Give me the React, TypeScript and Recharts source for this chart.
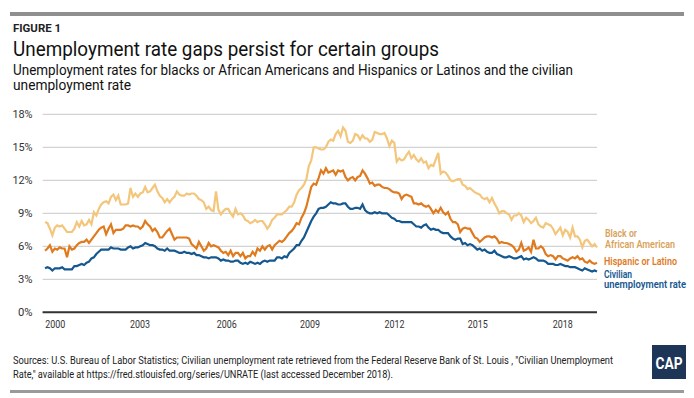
import React from "react";
import { LineChart, Line, XAxis, YAxis, CartesianGrid } from "recharts";

// Monthly unemployment rates, Jan 2000 – Nov 2018 (percent)
const civilian: number[] = [
  4.0, 4.1, 4.0, 3.8, 4.0, 4.0, 4.0, 4.1, 3.9, 3.9, 3.9, 3.9,
  4.2, 4.2, 4.3, 4.4, 4.3, 4.5, 4.6, 4.9, 5.0, 5.3, 5.5, 5.7,
  5.7, 5.7, 5.7, 5.9, 5.8, 5.8, 5.8, 5.7, 5.7, 5.7, 5.9, 6.0,
  5.8, 5.9, 5.9, 6.0, 6.1, 6.3, 6.2, 6.1, 6.1, 6.0, 5.8, 5.7,
  5.7, 5.6, 5.8, 5.6, 5.6, 5.6, 5.5, 5.4, 5.4, 5.5, 5.4, 5.4,
  5.3, 5.4, 5.2, 5.2, 5.1, 5.0, 5.0, 4.9, 5.0, 5.0, 5.0, 4.9,
  4.7, 4.8, 4.7, 4.7, 4.6, 4.6, 4.7, 4.7, 4.5, 4.4, 4.5, 4.4,
  4.6, 4.5, 4.4, 4.5, 4.4, 4.6, 4.7, 4.6, 4.7, 4.7, 4.7, 5.0,
  5.0, 4.9, 5.1, 5.0, 5.4, 5.6, 5.8, 6.1, 6.1, 6.5, 6.8, 7.3,
  7.8, 8.3, 8.7, 9.0, 9.4, 9.5, 9.5, 9.6, 9.8, 10.0, 9.9, 9.9,
  9.8, 9.8, 9.9, 9.9, 9.6, 9.4, 9.4, 9.5, 9.5, 9.4, 9.8, 9.3,
  9.1, 9.0, 9.0, 9.1, 9.0, 9.1, 9.0, 9.0, 9.0, 8.8, 8.6, 8.5,
  8.3, 8.3, 8.2, 8.2, 8.2, 8.2, 8.2, 8.0, 7.8, 7.8, 7.7, 7.9,
  8.0, 7.7, 7.5, 7.6, 7.5, 7.5, 7.3, 7.2, 7.2, 7.2, 6.9, 6.7,
  6.6, 6.7, 6.7, 6.2, 6.3, 6.1, 6.2, 6.1, 5.9, 5.7, 5.8, 5.6,
  5.7, 5.5, 5.4, 5.4, 5.6, 5.3, 5.2, 5.1, 5.0, 5.0, 5.1, 5.0,
  4.9, 4.9, 5.0, 5.1, 4.8, 4.9, 4.8, 4.9, 5.0, 4.9, 4.7, 4.7,
  4.7, 4.6, 4.4, 4.4, 4.4, 4.3, 4.3, 4.4, 4.3, 4.2, 4.2, 4.1,
  4.1, 4.1, 4.0, 3.9, 3.8, 4.0, 3.9, 3.8, 3.7, 3.8, 3.7,
];

const hispanic: number[] = [
  5.6, 5.8, 6.1, 5.5, 5.8, 5.7, 5.9, 5.8, 5.8, 5.0, 6.0, 5.7,
  5.8, 6.1, 6.3, 6.4, 6.4, 6.6, 6.3, 6.6, 6.9, 7.2, 7.5, 7.7,
  7.8, 7.1, 7.6, 8.0, 7.2, 7.5, 7.5, 7.5, 7.6, 7.9, 7.9, 7.8,
  7.9, 7.8, 7.8, 7.6, 7.8, 8.3, 8.0, 7.8, 7.4, 7.6, 7.3, 6.8,
  6.8, 7.1, 7.4, 7.6, 7.1, 6.6, 6.8, 6.8, 6.8, 6.8, 6.8, 6.7,
  6.2, 6.0, 5.8, 6.4, 6.0, 5.6, 5.8, 6.3, 6.0, 6.1, 6.0, 5.9,
  5.6, 5.4, 5.5, 5.2, 5.6, 5.1, 5.4, 5.4, 5.1, 5.4, 4.9, 5.1,
  5.1, 5.5, 5.2, 5.8, 5.6, 6.0, 5.7, 6.0, 6.1, 5.7, 6.1, 6.3,
  6.5, 6.4, 6.6, 6.9, 7.2, 7.4, 7.7, 8.1, 8.0, 8.6, 9.0, 9.6,
  10.5, 11.4, 11.7, 11.6, 12.2, 12.9, 12.6, 13.1, 12.7, 12.8, 12.9, 12.5,
  12.9, 12.8, 12.9, 12.3, 12.0, 12.2, 12.3, 12.0, 12.3, 12.4, 12.9, 12.6,
  12.2, 11.7, 11.8, 11.5, 11.6, 11.6, 11.4, 11.3, 11.3, 11.2, 11.0, 10.9,
  10.9, 10.8, 10.3, 10.6, 10.7, 10.6, 10.5, 9.9, 9.9, 9.8, 9.9, 9.7,
  9.6, 9.7, 9.4, 9.0, 9.3, 9.1, 9.5, 9.1, 8.9, 9.1, 8.5, 8.2,
  8.2, 8.0, 7.3, 7.6, 7.7, 7.6, 7.6, 7.2, 6.8, 6.7, 6.4, 6.6,
  6.8, 6.9, 6.9, 6.8, 6.9, 6.7, 6.3, 6.4, 6.3, 6.3, 6.2, 6.1,
  5.9, 5.5, 5.7, 6.3, 5.6, 5.7, 5.9, 5.5, 6.6, 5.8, 5.8, 6.0,
  5.8, 5.3, 5.1, 5.2, 5.1, 4.8, 5.1, 5.1, 4.9, 4.8, 4.7, 4.9,
  5.0, 4.9, 5.1, 4.8, 4.9, 4.6, 4.5, 4.7, 4.5, 4.4, 4.5,
];

const black: number[] = [
  8.2, 8.1, 7.6, 7.0, 7.7, 7.9, 7.8, 7.9, 7.6, 7.3, 7.3, 7.3,
  7.6, 8.2, 7.8, 8.3, 7.9, 8.0, 8.4, 8.0, 9.1, 8.8, 9.4, 9.8,
  10.0, 10.1, 9.9, 10.5, 10.7, 10.2, 10.6, 9.8, 9.8, 9.8, 9.9, 11.3,
  10.5, 10.8, 10.5, 10.8, 10.9, 11.4, 10.9, 11.0, 11.3, 11.6, 11.0, 10.6,
  10.4, 10.0, 10.3, 10.0, 10.3, 10.5, 11.0, 10.7, 10.6, 10.6, 10.8, 10.7,
  10.8, 10.8, 10.6, 10.3, 10.2, 10.0, 9.4, 9.6, 9.3, 9.2, 11.0, 9.3,
  8.9, 9.2, 9.4, 9.4, 9.0, 8.7, 9.4, 8.9, 9.0, 8.8, 8.4, 8.3,
  8.1, 8.2, 8.4, 8.2, 8.3, 8.3, 8.0, 7.6, 7.9, 8.4, 8.6, 8.9,
  8.9, 8.9, 9.1, 9.3, 9.6, 9.6, 10.0, 10.7, 11.1, 11.3, 11.6, 12.1,
  13.3, 13.8, 15.0, 15.0, 14.9, 14.8, 14.8, 15.0, 15.5, 15.7, 15.6, 16.2,
  16.5, 16.0, 16.8, 16.5, 15.5, 15.4, 15.6, 16.2, 16.1, 15.7, 16.1, 15.8,
  15.8, 15.5, 15.7, 16.4, 16.3, 16.2, 16.2, 16.3, 15.8, 15.1, 15.6, 15.4,
  13.7, 14.0, 13.8, 13.9, 14.3, 14.6, 14.0, 14.3, 13.9, 13.7, 14.0, 13.6,
  13.7, 13.1, 13.4, 13.3, 13.9, 14.5, 12.6, 12.8, 12.7, 12.4, 12.0, 11.9,
  12.0, 12.1, 12.1, 11.6, 11.5, 11.2, 11.3, 11.1, 10.9, 10.8, 10.7, 10.4,
  10.3, 10.4, 10.0, 10.4, 9.9, 9.5, 9.0, 9.2, 9.2, 9.0, 8.9, 8.4,
  8.8, 8.8, 9.0, 8.8, 8.2, 8.6, 8.4, 8.1, 8.3, 8.6, 8.0, 7.8,
  7.7, 8.1, 8.0, 7.9, 7.6, 7.1, 7.4, 7.7, 7.0, 7.5, 7.3, 6.8,
  7.7, 6.9, 6.9, 6.6, 5.9, 6.5, 6.6, 6.3, 6.0, 6.2, 5.9,
];

// Year labels and the month index (from Jan 2000) where each label sits
const yearLabels: string[] = ["2000", "2003", "2006", "2009", "2012", "2015", "2018"];
const yearTickMonths: number[] = [4.2, 38.9, 74.4, 108.5, 143.1, 177.2, 212.0];
const yTicks: number[] = [0, 3, 6, 9, 12, 15, 18];

const data = civilian.map((c, i) => ({
  m: i,
  civilian: c,
  hispanic: hispanic[i],
  black: black[i],
}));

const FONT = "Roboto, 'Liberation Sans', sans-serif";
const TAN = "#F3C67C";
const TAN_TEXT = "#D9A35C";
const ORANGE = "#E07A1F";
const BLUE = "#15578F";

const XTick = (props: any) => {
  const { x, y, payload } = props;
  const i = yearTickMonths.indexOf(payload.value);
  const label = i >= 0 ? yearLabels[i] : "";
  return (
    <text x={x} y={y + 9.5} textAnchor="middle" fontSize={11.5} fill="#333" fontFamily={FONT}
      textLength={20} lengthAdjust="spacingAndGlyphs">
      {label}
    </text>
  );
};

const YTick = (props: any) => {
  const { x, y, payload } = props;
  const label = `${payload.value}%`;
  const w = String(payload.value).length * 5.6 + 9;
  return (
    <text x={x} y={y + 4} textAnchor="end" fontSize={11.5} fill="#333" fontFamily={FONT}
      textLength={w} lengthAdjust="spacingAndGlyphs">
      {label}
    </text>
  );
};

export default function App() {
  return (
    <div style={{ position: "absolute", left: 0, top: 0, width: 694, height: 398, background: "#fff", fontFamily: FONT }}>
      <LineChart
        width={694}
        height={398}
        data={data}
        margin={{ top: 114.3, right: 97, bottom: 55.7, left: 0 }}
      >
        <CartesianGrid vertical={false} stroke="#c9c9c9" strokeWidth={1} />
        <XAxis
          type="number"
          dataKey="m"
          domain={[-1, 226]}
          ticks={yearTickMonths}
          interval={0}
          height={30}
          tickLine={false}
          tickMargin={0}
          axisLine={{ stroke: "#333", strokeWidth: 2 }}
          tick={<XTick />}
        />
        <YAxis
          type="number"
          domain={[0, 18]}
          ticks={yTicks}
          width={42.6}
          interval={0}
          axisLine={false}
          tickLine={false}
          tickMargin={4}
          tick={<YTick />}
        />
        <Line type="linear" dataKey="black" stroke={TAN} strokeWidth={2.2} dot={false} isAnimationActive={false} />
        <Line type="linear" dataKey="hispanic" stroke={ORANGE} strokeWidth={2.2} dot={false} isAnimationActive={false} />
        <Line type="linear" dataKey="civilian" stroke={BLUE} strokeWidth={2.2} dot={false} isAnimationActive={false} />
      </LineChart>

      <svg width={694} height={398} style={{ position: "absolute", left: 0, top: 0, pointerEvents: "none" }}>
        <rect x={10} y={12} width={674} height={4} fill="#8f8f8f" />
        <text x={13} y={32} fontSize={11} fontWeight={700} fill="#222" fontFamily={FONT} textLength={48} lengthAdjust="spacingAndGlyphs">FIGURE 1</text>
        <text x={13} y={55.5} fontSize={21} fill="#111" fontFamily={FONT} textLength={426} lengthAdjust="spacingAndGlyphs">
          Unemployment rate gaps persist for certain groups
        </text>
        <text x={13} y={75} fontSize={15.5} fill="#111" fontFamily={FONT} textLength={560} lengthAdjust="spacingAndGlyphs">
          Unemployment rates for blacks or African Americans and Hispanics or Latinos and the civilian
        </text>
        <text x={13} y={90} fontSize={15.5} fill="#111" fontFamily={FONT} textLength={118} lengthAdjust="spacingAndGlyphs">
          unemployment rate
        </text>

        <text x={605} y={237} fontSize={11} fontWeight={600} fill={TAN_TEXT} fontFamily={FONT} textLength={32} lengthAdjust="spacingAndGlyphs">Black or</text>
        <text x={605} y={247.5} fontSize={11} fontWeight={600} fill={TAN_TEXT} fontFamily={FONT} textLength={70} lengthAdjust="spacingAndGlyphs">African American</text>
        <text x={604} y={264.5} fontSize={11} fontWeight={600} fill={ORANGE} fontFamily={FONT} textLength={73} lengthAdjust="spacingAndGlyphs">Hispanic or Latino</text>
        <text x={604} y={277.5} fontSize={11} fontWeight={600} fill={BLUE} fontFamily={FONT} textLength={28} lengthAdjust="spacingAndGlyphs">Civilian</text>
        <text x={604} y={287.5} fontSize={11} fontWeight={600} fill={BLUE} fontFamily={FONT} textLength={82} lengthAdjust="spacingAndGlyphs">unemployment rate</text>

        <text x={13} y={364} fontSize={10} fill="#222" fontFamily={FONT} textLength={600} lengthAdjust="spacingAndGlyphs">
          Sources: U.S. Bureau of Labor Statistics; Civilian unemployment rate retrieved from the Federal Reserve Bank of St. Louis , "Civilian Unemployment
        </text>
        <text x={13} y={378} fontSize={10} fill="#222" fontFamily={FONT} textLength={380} lengthAdjust="spacingAndGlyphs">
          Rate,"  available at https://fred.stlouisfed.org/series/UNRATE (last accessed December 2018).
        </text>

        <rect x={652} y={345} width={34} height={34} fill="#1d3557" />
        <text x={669} y={369} fontSize={16} fontWeight={700} fill="#fff" textAnchor="middle" fontFamily={FONT} textLength={27} lengthAdjust="spacingAndGlyphs">CAP</text>
        <rect x={10} y={390} width={674} height={3} fill="#9a9a9a" />
      </svg>
    </div>
  );
}
